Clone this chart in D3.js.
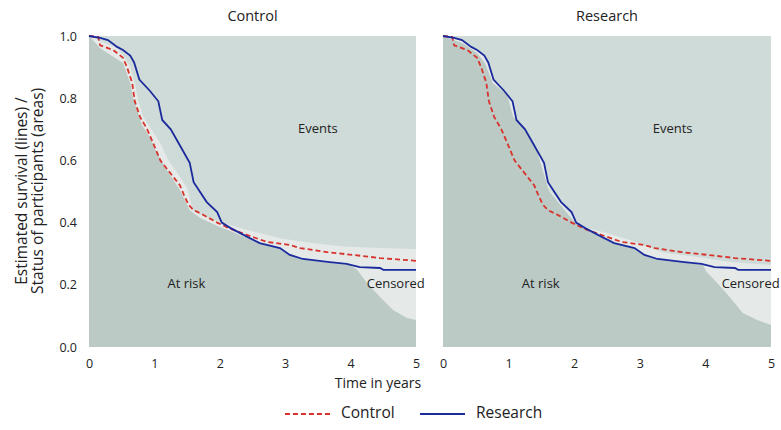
<!DOCTYPE html>
<html>
<head>
<meta charset="utf-8">
<script src="https://cdn.jsdelivr.net/npm/d3@7"></script>
<style>
  html, body { margin: 0; padding: 0; background: #fff; }
  svg { display: block; font-family: "Open Sans", "Noto Sans", sans-serif; }
</style>
</head>
<body>
<svg id="chart" width="781" height="430"></svg>
<script>
// Kaplan-Meier survival estimates per arm (time in years, survival proportion)
const controlTime = [0, 0.14, 0.17, 0.37, 0.52, 0.58, 0.66, 0.70, 0.78, 0.89, 0.98, 1.09, 1.24, 1.39, 1.45, 1.52, 1.60, 1.72, 1.96, 2.16, 2.42, 2.72, 3.07, 3.23, 3.64, 4.04, 4.45, 5.0];
const controlSurv = [1.0, 0.997, 0.97, 0.955, 0.93, 0.90, 0.85, 0.79, 0.74, 0.70, 0.656, 0.60, 0.56, 0.52, 0.49, 0.458, 0.44, 0.428, 0.40, 0.38, 0.36, 0.338, 0.328, 0.318, 0.305, 0.296, 0.286, 0.277];

const researchTime = [0, 0.17, 0.29, 0.43, 0.52, 0.63, 0.69, 0.77, 0.93, 1.06, 1.12, 1.25, 1.38, 1.54, 1.60, 1.80, 1.96, 2.03, 2.16, 2.42, 2.61, 2.92, 3.07, 3.27, 3.68, 3.94, 4.14, 4.45, 4.50, 5.0];
const researchSurv = [1.0, 0.994, 0.987, 0.965, 0.955, 0.937, 0.915, 0.86, 0.824, 0.79, 0.73, 0.70, 0.652, 0.592, 0.53, 0.466, 0.434, 0.40, 0.383, 0.354, 0.334, 0.318, 0.296, 0.283, 0.273, 0.267, 0.257, 0.254, 0.248, 0.248];

// Status of participants: proportion still at risk, and proportion without an event (at risk + censored)
const controlRiskTime = [0, 0.17, 0.52, 0.63, 0.67, 0.75, 0.81, 0.93, 1.04, 1.19, 1.39, 1.54, 1.70, 2.0, 2.2, 2.42, 2.61, 2.92, 3.07, 3.33, 3.68, 3.99, 4.1, 4.25, 4.45, 4.65, 4.86, 5.0];
const controlAtRisk   = [1.0, 0.961, 0.913, 0.849, 0.804, 0.752, 0.714, 0.675, 0.624, 0.569, 0.505, 0.44, 0.415, 0.386, 0.37, 0.35, 0.334, 0.318, 0.30, 0.28, 0.27, 0.264, 0.248, 0.206, 0.161, 0.119, 0.093, 0.087];
const controlFreeTime = [0, 0.21, 0.43, 0.52, 0.63, 0.70, 0.75, 0.83, 0.96, 1.09, 1.21, 1.35, 1.50, 1.59, 1.90, 2.16, 2.42, 2.92, 3.43, 3.94, 4.45, 5.0];
const controlNoEvent  = [1.0, 0.981, 0.961, 0.939, 0.90, 0.849, 0.794, 0.74, 0.698, 0.656, 0.601, 0.56, 0.511, 0.437, 0.408, 0.392, 0.376, 0.35, 0.334, 0.322, 0.318, 0.315];

const researchRiskTime = [0, 0.30, 0.52, 0.64, 0.76, 0.98, 1.07, 1.28, 1.43, 1.52, 1.60, 1.63, 1.98, 2.13, 2.54, 2.85, 3.20, 3.61, 3.96, 4.02, 4.18, 4.37, 4.57, 4.79, 5.0];
const researchAtRisk   = [1.0, 0.977, 0.945, 0.913, 0.849, 0.81, 0.74, 0.688, 0.633, 0.569, 0.514, 0.498, 0.408, 0.383, 0.338, 0.322, 0.286, 0.273, 0.264, 0.241, 0.206, 0.161, 0.109, 0.087, 0.071];
const researchFreeTime = [0, 0.17, 0.29, 0.43, 0.52, 0.63, 0.69, 0.77, 0.93, 1.06, 1.12, 1.25, 1.38, 1.54, 1.63, 1.98, 2.13, 2.44, 2.85, 3.35, 3.87, 4.37, 5.0];
const researchNoEvent  = [1.0, 0.994, 0.987, 0.965, 0.955, 0.937, 0.915, 0.86, 0.824, 0.79, 0.73, 0.70, 0.652, 0.592, 0.505, 0.418, 0.386, 0.37, 0.344, 0.305, 0.289, 0.273, 0.264];

const panelTitles = ["Control", "Research"];
const xTickValues = [0, 1, 2, 3, 4, 5];
const yTickValues = [0, 0.2, 0.4, 0.6, 0.8, 1.0];
const seriesNames = ["Control", "Research"];

const colors = {
  events: "#cfdbd8",
  censored: "#e5eae9",
  atRisk: "#bbcac5",
  control: "#d7332c",
  research: "#1b2a9c",
  text: "#222"
};

const svg = d3.select("#chart");
const y = d3.scaleLinear().domain([0, 1]).range([347, 36]);

const zip = (t, v) => t.map((d, i) => [d, v[i]]);

const panels = [
  { title: panelTitles[0], x0: 89, x1: 416,
    risk: zip(controlRiskTime, controlAtRisk), free: zip(controlFreeTime, controlNoEvent) },
  { title: panelTitles[1], x0: 443, x1: 771,
    risk: zip(researchRiskTime, researchAtRisk), free: zip(researchFreeTime, researchNoEvent) }
];

const controlPts = zip(controlTime, controlSurv);
const researchPts = zip(researchTime, researchSurv);

panels.forEach((p, i) => {
  const x = d3.scaleLinear().domain([0, 5]).range([p.x0, p.x1]);
  const g = svg.append("g");

  // events: everything above the no-event boundary
  g.append("rect")
    .attr("x", x(0)).attr("y", y(1))
    .attr("width", x(5) - x(0)).attr("height", y(0) - y(1))
    .attr("fill", colors.events);

  const area = d3.area().x(d => x(d[0])).y0(y(0)).y1(d => y(d[1]));
  g.append("path").datum(p.free).attr("d", area).attr("fill", colors.censored);
  g.append("path").datum(p.risk).attr("d", area).attr("fill", colors.atRisk);

  const line = d3.line().x(d => x(d[0])).y(d => y(d[1]));
  g.append("path").datum(controlPts).attr("d", line)
    .attr("fill", "none").attr("stroke", colors.control)
    .attr("stroke-width", 1.8).attr("stroke-dasharray", "5,3");
  g.append("path").datum(researchPts).attr("d", line)
    .attr("fill", "none").attr("stroke", colors.research)
    .attr("stroke-width", 1.8);

  // area labels
  const lab = (t, tx, ty, anchor) => g.append("text")
    .attr("x", x(tx)).attr("y", y(ty)).attr("text-anchor", anchor)
    .attr("dominant-baseline", "middle")
    .attr("font-size", 13).attr("fill", colors.text).text(t);
  lab("Events", 3.5, 0.70, "middle");
  lab("At risk", 1.49, 0.20, "middle");
  lab("Censored", 4.69, 0.20, "middle");

  // panel title
  g.append("text").attr("x", (p.x0 + p.x1) / 2).attr("y", 17)
    .attr("text-anchor", "middle").attr("dominant-baseline", "middle")
    .attr("font-size", 14.5).attr("fill", colors.text).text(p.title);

  // x axis (labels only)
  const xAxis = d3.axisBottom(x).tickValues(xTickValues).tickFormat(d3.format("d")).tickSize(0).tickPadding(12);
  const ax = svg.append("g").attr("transform", `translate(0,${y(0)})`).call(xAxis);
  ax.select(".domain").remove();
  ax.selectAll("text").attr("font-size", 12.5).attr("fill", colors.text)
    .attr("font-family", "'Open Sans', 'Noto Sans', sans-serif");
});

// y axis (labels only)
const yAxis = d3.axisLeft(y).tickValues(yTickValues).tickFormat(d3.format(".1f")).tickSize(0).tickPadding(12);
const ay = svg.append("g").attr("transform", "translate(89,0)").call(yAxis);
ay.select(".domain").remove();
ay.selectAll("text").attr("font-size", 12.5).attr("fill", colors.text)
  .attr("font-family", "'Open Sans', 'Noto Sans', sans-serif");

// y axis title
const yt = svg.append("text").attr("transform", "translate(27,191) rotate(-90)")
  .attr("text-anchor", "middle").attr("font-size", 15.5).attr("fill", colors.text);
yt.append("tspan").attr("x", 0).attr("dy", 0).text("Estimated survival (lines) /");
yt.append("tspan").attr("x", 0).attr("dy", 16).text("Status of participants (areas)");

// x axis title
svg.append("text").attr("x", 378).attr("y", 384)
  .attr("text-anchor", "middle").attr("dominant-baseline", "middle")
  .attr("font-size", 14).attr("fill", colors.text).text("Time in years");

// legend
const legend = svg.append("g");
const legendItems = [
  { name: seriesNames[0], color: colors.control, dash: "5,3", x: 285 },
  { name: seriesNames[1], color: colors.research, dash: null, x: 420 }
];
legendItems.forEach(it => {
  legend.append("line").attr("x1", it.x).attr("x2", it.x + 45)
    .attr("y1", 414).attr("y2", 414)
    .attr("stroke", it.color).attr("stroke-width", 1.8)
    .attr("stroke-dasharray", it.dash);
  legend.append("text").attr("x", it.x + 56).attr("y", 414)
    .attr("dominant-baseline", "middle").attr("font-size", 15.5)
    .attr("fill", colors.text).text(it.name);
});
</script>
</body>
</html>
